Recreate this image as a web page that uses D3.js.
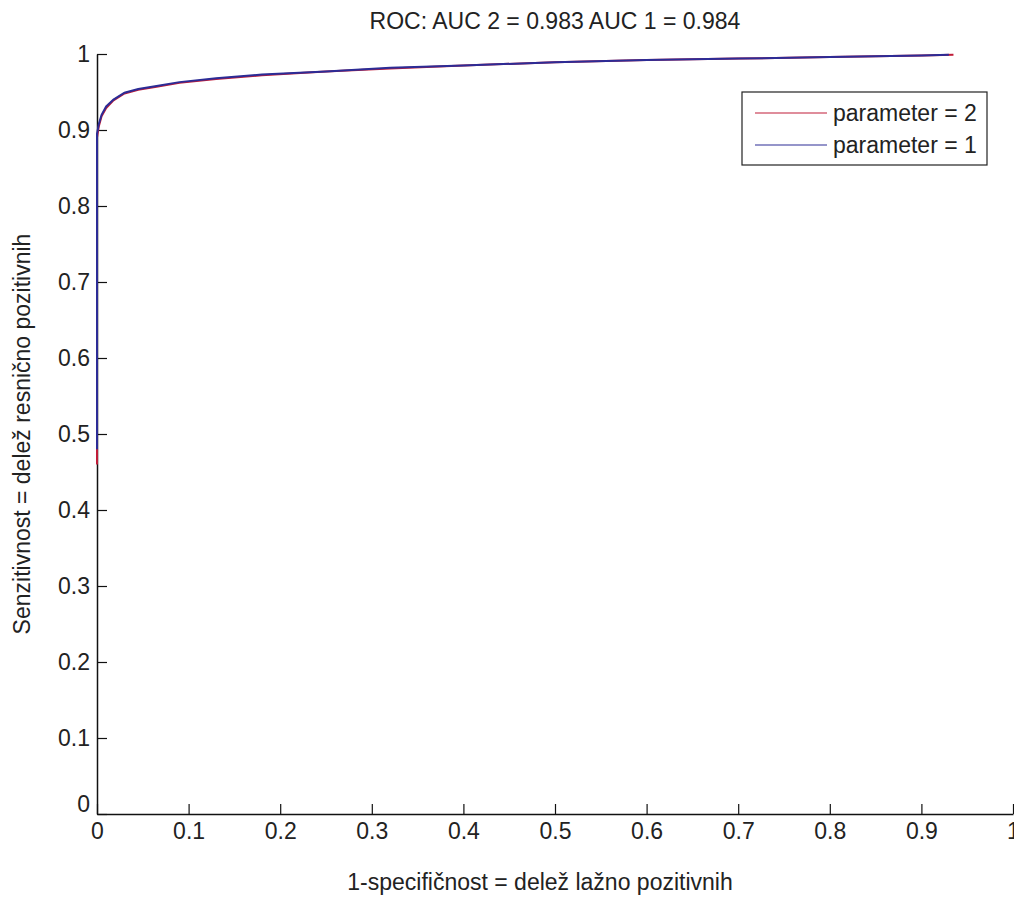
<!DOCTYPE html>
<html>
<head>
<meta charset="utf-8">
<script src="https://cdn.jsdelivr.net/npm/d3@7"></script>
<style>
  body { margin: 0; background: #fff; }
  text { font-family: "Liberation Sans", Arial, sans-serif; fill: #222; }
</style>
</head>
<body>
<div id="plot"></div>
<script>
// ROC data
const fprParam2 = [0, 0, 0.002, 0.005, 0.01, 0.018, 0.03, 0.045, 0.065, 0.09, 0.13, 0.18, 0.25, 0.32, 0.4, 0.5, 0.6, 0.7, 0.8, 0.9, 0.935];
const tprParam2 = [0.46, 0.89, 0.905, 0.918, 0.929, 0.939, 0.948, 0.953, 0.957, 0.962, 0.967, 0.972, 0.977, 0.981, 0.985, 0.989, 0.992, 0.994, 0.996, 0.998, 0.999];
const fprParam1 = [0, 0, 0.002, 0.005, 0.01, 0.018, 0.03, 0.045, 0.065, 0.09, 0.13, 0.18, 0.25, 0.32, 0.4, 0.5, 0.6, 0.7, 0.8, 0.9, 0.93];
const tprParam1 = [0.48, 0.895, 0.908, 0.92, 0.931, 0.94, 0.949, 0.954, 0.958, 0.963, 0.968, 0.973, 0.977, 0.982, 0.985, 0.989, 0.992, 0.994, 0.996, 0.998, 0.999];
const xTicks = [0, 0.1, 0.2, 0.3, 0.4, 0.5, 0.6, 0.7, 0.8, 0.9, 1];
const yTicks = [0, 0.1, 0.2, 0.3, 0.4, 0.5, 0.6, 0.7, 0.8, 0.9, 1];
const seriesNames = ["parameter = 2", "parameter = 1"];
const seriesColors = ["#c01c38", "#2c2c96"];

const W = 1014, H = 906;
const margin = { top: 54, right: 1, bottom: 92, left: 97 };
const width = W - margin.left - margin.right;
const height = H - margin.top - margin.bottom;
const fontSize = "23px";

const svg = d3.select("#plot")
    .append("svg")
    .attr("width", W)
    .attr("height", H);

const g = svg.append("g")
    .attr("transform", `translate(${margin.left},${margin.top})`);

const x = d3.scaleLinear().domain([0, 1]).range([0, width]);
const y = d3.scaleLinear().domain([0, 1]).range([height, 0]);

// Axes (ticks inward, like MATLAB)
const xAxis = g.append("g")
    .attr("transform", `translate(0,${height})`)
    .call(d3.axisBottom(x).tickValues(xTicks).tickFormat(d3.format("~g")).tickSizeInner(-10).tickSizeOuter(0).tickPadding(9));
const yAxis = g.append("g")
    .call(d3.axisLeft(y).tickValues(yTicks).tickFormat(d3.format("~g")).tickSizeInner(-10).tickSizeOuter(0).tickPadding(7));

[xAxis, yAxis].forEach(a => {
    a.select(".domain").attr("stroke", "#111").attr("stroke-width", 1.5);
    a.selectAll(".tick line").attr("stroke", "#111").attr("stroke-width", 1.2);
    a.selectAll(".tick text")
        .style("font-family", '"Liberation Sans", Arial, sans-serif')
        .style("font-size", fontSize)
        .attr("fill", "#222");
});
// y=0 label sits a little higher at the corner
yAxis.selectAll(".tick text").filter(d => d === 0).attr("dy", "-0.1em");

// Curves
const line = d3.line().x(d => x(d[0])).y(d => y(d[1]));
const series = [
    d3.zip(fprParam2, tprParam2),
    d3.zip(fprParam1, tprParam1)
];
series.forEach((pts, i) => {
    g.append("path")
        .datum(pts)
        .attr("fill", "none")
        .attr("stroke", seriesColors[i])
        .attr("stroke-width", 2)
        .attr("d", line);
});

// Title
svg.append("text")
    .attr("x", margin.left + width / 2)
    .attr("y", 29)
    .attr("text-anchor", "middle")
    .style("font-size", fontSize)
    .text("ROC: AUC 2 = 0.983 AUC 1 = 0.984");

// Axis labels
svg.append("text")
    .attr("x", margin.left + width / 2 - 15)
    .attr("y", 890)
    .attr("text-anchor", "middle")
    .style("font-size", fontSize)
    .text("1-specifičnost = delež lažno pozitivnih");

svg.append("text")
    .attr("transform", `translate(30,${margin.top + height / 2}) rotate(-90)`)
    .attr("text-anchor", "middle")
    .style("font-size", fontSize)
    .text("Senzitivnost = delež resnično pozitivnih");

// Legend
const legend = svg.append("g").attr("transform", "translate(742,92)");
legend.append("rect")
    .attr("width", 245)
    .attr("height", 73)
    .attr("fill", "#fff")
    .attr("stroke", "#222")
    .attr("stroke-width", 1.2);
seriesNames.forEach((name, i) => {
    const ly = 21 + i * 32;
    legend.append("line")
        .attr("x1", 13).attr("x2", 85)
        .attr("y1", ly).attr("y2", ly)
        .attr("stroke", seriesColors[i])
        .attr("stroke-width", 1.2);
    legend.append("text")
        .attr("x", 91)
        .attr("y", ly)
        .attr("dy", "0.35em")
        .style("font-size", fontSize)
        .text(name);
});
</script>
</body>
</html>
